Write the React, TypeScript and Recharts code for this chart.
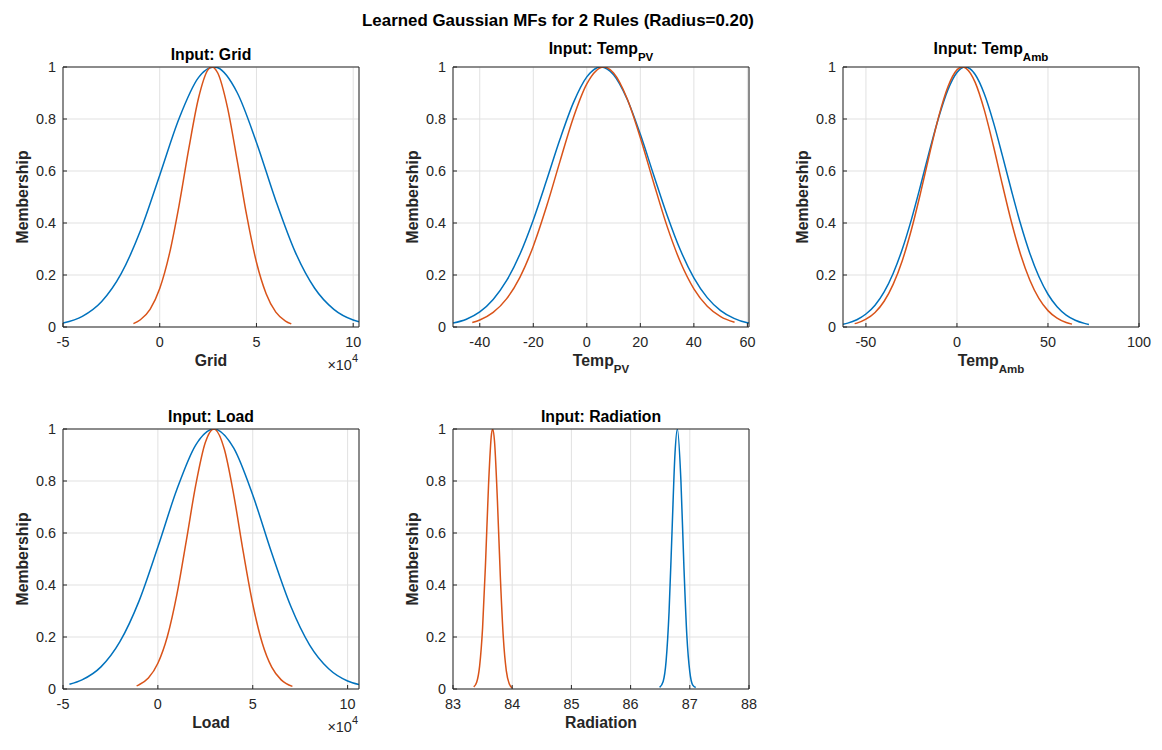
import React from 'react';
import { LineChart, Line, XAxis, YAxis, CartesianGrid } from 'recharts';

const FONT = '"Liberation Sans", Arial, Helvetica, sans-serif';
const BLUE = '#0072BD';
const ORANGE = '#D95319';
const AXIS = '#262626';
const GRID = '#e1e1e1';

// membership axis, shared by every panel
const muTicks = [0, 0.2, 0.4, 0.6, 0.8, 1];

// Grid (values in units of 10^4)
const gridTicks = [-5, 0, 5, 10];
const gridR1X = [-5, -4, -3, -2, -1, 0, 1, 2, 2.8, 3, 4, 5, 6, 7, 8, 9, 10, 10.3];
const gridR1Mu = [0.015, 0.041, 0.098, 0.204, 0.37, 0.584, 0.802, 0.959, 1, 0.997, 0.902, 0.71, 0.486, 0.289, 0.15, 0.068, 0.027, 0.02];
const gridR2X = [-1.36, -1, -0.5, 0, 0.5, 1, 1.5, 2, 2.5, 2.7, 3, 3.5, 4, 4.5, 5, 5.5, 6, 6.5, 6.8];
const gridR2Mu = [0.013, 0.028, 0.068, 0.148, 0.281, 0.468, 0.685, 0.879, 0.99, 1, 0.977, 0.845, 0.642, 0.427, 0.249, 0.128, 0.057, 0.023, 0.012];

// Temp_PV
const pvTicks = [-40, -20, 0, 20, 40, 60];
const pvR1X = [-50, -45, -40, -35, -30, -25, -20, -15, -10, -5, 0, 5.3, 10, 15, 20, 25, 30, 35, 40, 45, 50, 55, 60, 60.6];
const pvR1Mu = [0.015, 0.03, 0.058, 0.106, 0.178, 0.28, 0.412, 0.565, 0.723, 0.863, 0.962, 1, 0.97, 0.878, 0.741, 0.584, 0.43, 0.295, 0.189, 0.113, 0.063, 0.033, 0.016, 0.015];
const pvR2X = [-42.8, -40, -35, -30, -25, -20, -15, -10, -5, 0, 6.3, 10, 15, 20, 25, 30, 35, 40, 45, 50, 55.2];
const pvR2Mu = [0.017, 0.027, 0.056, 0.108, 0.191, 0.311, 0.465, 0.638, 0.806, 0.935, 1, 0.977, 0.88, 0.728, 0.554, 0.387, 0.249, 0.147, 0.08, 0.04, 0.018];

// Temp_Amb
const ambTicks = [-50, 0, 50, 100];
const ambR1X = [-62.6, -60, -55, -50, -45, -40, -35, -30, -25, -20, -15, -10, -5, 0, 4.6, 10, 15, 20, 25, 30, 35, 40, 45, 50, 55, 60, 65, 70, 72.5];
const ambR1Mu = [0.011, 0.015, 0.028, 0.05, 0.084, 0.135, 0.207, 0.3, 0.414, 0.544, 0.68, 0.807, 0.912, 0.979, 1, 0.971, 0.897, 0.788, 0.658, 0.523, 0.395, 0.284, 0.194, 0.126, 0.078, 0.046, 0.026, 0.014, 0.01];
const ambR2X = [-56.2, -55, -50, -45, -40, -35, -30, -25, -20, -15, -10, -5, 0, 3, 5, 10, 15, 20, 25, 30, 35, 40, 45, 50, 55, 60, 63.2];
const ambR2Mu = [0.013, 0.015, 0.03, 0.056, 0.099, 0.165, 0.256, 0.375, 0.516, 0.667, 0.81, 0.923, 0.989, 1, 0.995, 0.941, 0.835, 0.697, 0.546, 0.402, 0.278, 0.181, 0.11, 0.063, 0.034, 0.017, 0.011];

// Load (values in units of 10^4)
const loadTicks = [-5, 0, 5, 10];
const loadR1X = [-4.66, -4, -3, -2, -1, 0, 1, 2, 2.95, 4, 5, 6, 7, 8, 9, 10, 10.6];
const loadR1Mu = [0.018, 0.035, 0.085, 0.182, 0.337, 0.546, 0.767, 0.939, 1, 0.926, 0.746, 0.523, 0.319, 0.169, 0.078, 0.031, 0.017];
const loadR2X = [-1.12, -1, -0.5, 0, 0.5, 1, 1.5, 2, 2.5, 2.95, 3.5, 4, 4.5, 5, 5.5, 6, 6.5, 7.09];
const loadR2Mu = [0.012, 0.016, 0.042, 0.099, 0.202, 0.363, 0.571, 0.786, 0.948, 1, 0.923, 0.746, 0.527, 0.327, 0.177, 0.084, 0.035, 0.01];

// Radiation
const radTicks = [83, 84, 85, 86, 87, 88];
const radR1X = [86.49, 86.55, 86.6, 86.65, 86.7, 86.75, 86.79, 86.85, 86.9, 86.95, 87, 87.05, 87.1];
const radR1Mu = [0.006, 0.029, 0.108, 0.298, 0.607, 0.906, 1, 0.801, 0.474, 0.206, 0.066, 0.015, 0.006];
const radR2X = [83.35, 83.4, 83.45, 83.5, 83.55, 83.6, 83.65, 83.67, 83.7, 83.75, 83.8, 83.85, 83.9, 83.95, 84];
const radR2Mu = [0.008, 0.026, 0.089, 0.236, 0.487, 0.783, 0.98, 1, 0.956, 0.726, 0.43, 0.198, 0.071, 0.02, 0.004];

const toPoints = (xs: number[], mus: number[]) => xs.map((x, i) => ({ x, mu: mus[i] }));

const PLOT_W = 296;
const PLOT_H = 260;
const ML = 63;
const MT = 67;
const MR = 20;
const MB = 50;

const TICK_FONT = 14.4;
const LABEL_FONT = 15.8;
const SUB_FONT = 11.5;

type Curve = { x: number[]; mu: number[]; color: string };

type PanelProps = {
  left: number;
  top: number;
  domain: [number, number];
  ticks: number[];
  curves: Curve[];
  name: string;
  sub?: string;
  exponent?: boolean;
};

function Panel({ left, top, domain, ticks, curves, name, sub, exponent }: PanelProps) {
  const tickStyle = { fill: AXIS, fontSize: TICK_FONT, fontFamily: FONT };

  const title = ({ viewBox }: any) => {
    const cx = viewBox.x + viewBox.width / 2;
    const base = viewBox.y + viewBox.height - (sub ? 13.5 : 7);
    return (
      <text x={cx} y={base} textAnchor="middle" fontFamily={FONT} fontWeight="bold" fontSize={LABEL_FONT} fill="#000">
        {`Input: ${name}`}
        {sub && <tspan dy={7.5} fontSize={SUB_FONT}>{sub}</tspan>}
      </text>
    );
  };

  const xLabel = ({ viewBox }: any) => {
    const cx = viewBox.x + viewBox.width / 2;
    const base = viewBox.y + 39.4;
    return (
      <g>
        <text x={cx} y={base} textAnchor="middle" fontFamily={FONT} fontWeight="bold" fontSize={LABEL_FONT} fill={AXIS}>
          {name}
          {sub && <tspan dy={6.5} fontSize={SUB_FONT}>{sub}</tspan>}
        </text>
        {exponent && (
          <text x={viewBox.x + viewBox.width - 1} y={viewBox.y + 42.7} textAnchor="end" fontFamily={FONT} fontSize={TICK_FONT} fill={AXIS}>
            {'\u00d710'}
            <tspan dy={-8} fontSize={11}>4</tspan>
          </text>
        )}
      </g>
    );
  };

  const yLabel = ({ viewBox }: any) => {
    const cx = viewBox.x - 5;
    const cy = viewBox.y + viewBox.height / 2;
    return (
      <text transform={`translate(${cx},${cy}) rotate(-90)`} textAnchor="middle" fontFamily={FONT} fontWeight="bold" fontSize={LABEL_FONT} fill={AXIS}>
        Membership
      </text>
    );
  };

  return (
    <div style={{ position: 'absolute', left: left - ML, top: top - MT }}>
      <LineChart
        width={ML + PLOT_W + MR}
        height={MT + PLOT_H + MB}
        margin={{ top: MT - 1, right: MR - 1, bottom: 0, left: ML - 30 }}
      >
        <CartesianGrid stroke={GRID} strokeWidth={1} />
        <XAxis
          type="number"
          dataKey="x"
          domain={domain}
          ticks={ticks}
          interval={0}
          allowDataOverflow
          height={MB}
          tickSize={-4}
          tickMargin={14}
          tick={tickStyle}
          tickLine={{ stroke: AXIS }}
          axisLine={{ stroke: AXIS }}
          tickFormatter={(v: number) => String(v)}
          label={{ content: xLabel }}
        />
        <XAxis
          xAxisId="top"
          orientation="top"
          type="number"
          domain={domain}
          ticks={ticks}
          interval={0}
          allowDataOverflow
          height={1}
          tickSize={-4}
          tick={false}
          tickLine={{ stroke: AXIS }}
          axisLine={{ stroke: AXIS }}
          label={{ content: title }}
        />
        <YAxis
          type="number"
          domain={[0, 1]}
          ticks={muTicks}
          interval={0}
          allowDataOverflow
          width={30}
          tickSize={-4}
          tickMargin={11}
          tick={tickStyle}
          tickLine={{ stroke: AXIS }}
          axisLine={{ stroke: AXIS }}
          tickFormatter={(v: number) => String(v)}
          label={{ content: yLabel }}
        />
        <YAxis
          yAxisId="right"
          orientation="right"
          type="number"
          domain={[0, 1]}
          ticks={muTicks}
          interval={0}
          width={1}
          tickSize={-4}
          tick={false}
          tickLine={{ stroke: AXIS }}
          axisLine={{ stroke: AXIS }}
        />
        {curves.map((c, i) => (
          <Line
            key={i}
            data={toPoints(c.x, c.mu)}
            dataKey="mu"
            type="monotone"
            stroke={c.color}
            strokeWidth={1.5}
            dot={false}
            activeDot={false}
            isAnimationActive={false}
          />
        ))}
      </LineChart>
    </div>
  );
}

export default function App() {
  return (
    <div
      style={{
        position: 'absolute',
        left: 0,
        top: 0,
        width: 1162,
        height: 750,
        background: '#fff',
        overflow: 'hidden',
      }}
    >
      <svg width={1162} height={40} style={{ position: 'absolute', left: 0, top: 0 }}>
        <text x={558} y={25.5} textAnchor="middle" fontFamily={FONT} fontWeight="bold" fontSize={16.9} fill="#000">
          Learned Gaussian MFs for 2 Rules (Radius=0.20)
        </text>
      </svg>

      <Panel
        left={63}
        top={67}
        domain={[-5, 10.3]}
        ticks={gridTicks}
        name="Grid"
        exponent
        curves={[
          { x: gridR1X, mu: gridR1Mu, color: BLUE },
          { x: gridR2X, mu: gridR2Mu, color: ORANGE },
        ]}
      />
      <Panel
        left={453}
        top={67}
        domain={[-50, 60.6]}
        ticks={pvTicks}
        name="Temp"
        sub="PV"
        curves={[
          { x: pvR1X, mu: pvR1Mu, color: BLUE },
          { x: pvR2X, mu: pvR2Mu, color: ORANGE },
        ]}
      />
      <Panel
        left={843}
        top={67}
        domain={[-62.6, 100]}
        ticks={ambTicks}
        name="Temp"
        sub="Amb"
        curves={[
          { x: ambR1X, mu: ambR1Mu, color: BLUE },
          { x: ambR2X, mu: ambR2Mu, color: ORANGE },
        ]}
      />
      <Panel
        left={63}
        top={429}
        domain={[-5, 10.6]}
        ticks={loadTicks}
        name="Load"
        exponent
        curves={[
          { x: loadR1X, mu: loadR1Mu, color: BLUE },
          { x: loadR2X, mu: loadR2Mu, color: ORANGE },
        ]}
      />
      <Panel
        left={453}
        top={429}
        domain={[83, 88]}
        ticks={radTicks}
        name="Radiation"
        curves={[
          { x: radR1X, mu: radR1Mu, color: BLUE },
          { x: radR2X, mu: radR2Mu, color: ORANGE },
        ]}
      />
    </div>
  );
}
